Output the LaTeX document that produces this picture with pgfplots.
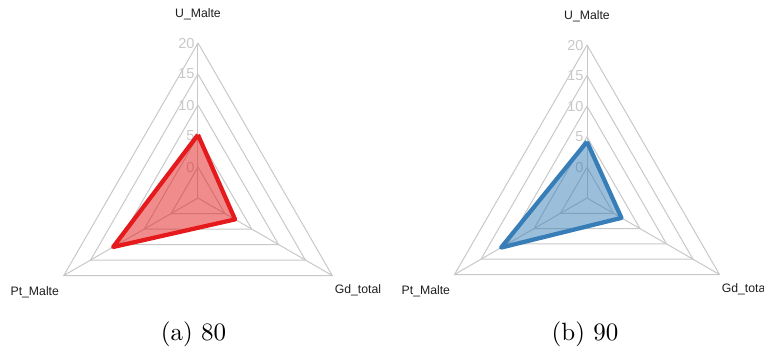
\documentclass[border=0pt]{standalone}
\usepackage{pgfplots}
\pgfplotsset{compat=1.18}
\usepgfplotslibrary{polar}
\usepackage{fontspec}
\newfontfamily\arial{Liberation Sans}
\definecolor{gridc}{RGB}{200,200,200}
\definecolor{tickc}{RGB}{200,200,200}
\definecolor{labc}{RGB}{30,30,30}
\definecolor{redl}{RGB}{228,26,28}
\definecolor{bluel}{RGB}{55,126,184}
\pgfplotsset{
  radar/.style={
    hide axis, scale only axis, clip=false,
    xmin=0, xmax=360, ymin=0, ymax=25,
    y filter/.expression={y+5},
  },
  ring/.style={gridc, line width=0.4pt, no marks},
}
\newcommand{\radargrid}{%
  \addplot[ring] coordinates {(90,0) (210,0) (330,0) (90,0)};
  \addplot[ring] coordinates {(90,5) (210,5) (330,5) (90,5)};
  \addplot[ring] coordinates {(90,10) (210,10) (330,10) (90,10)};
  \addplot[ring] coordinates {(90,15) (210,15) (330,15) (90,15)};
  \addplot[ring] coordinates {(90,20) (210,20) (330,20) (90,20)};
  \addplot[ring] coordinates {(90,-5) (90,20)};
  \addplot[ring] coordinates {(210,-5) (210,20)};
  \addplot[ring] coordinates {(330,-5) (330,20)};
  \foreach \v in {0,5,10,15,20} {
    \edef\tmp{\noexpand\node[anchor=east, inner sep=0pt, xshift=-1.2pt, font=\noexpand\arial\noexpand\fontsize{5.8}{7}\noexpand\selectfont, text=tickc] at (axis cs:90,\v+5) {\v};}\tmp
  }
  \node[font=\arial\fontsize{4.9}{6}\selectfont, text=labc] at (axis cs:90,29.7) {U\_Malte};
  \node[font=\arial\fontsize{4.9}{6}\selectfont, text=labc] at (axis cs:210,30.4) {Pt\_Malte};
  \node[font=\arial\fontsize{4.9}{6}\selectfont, text=labc] at (axis cs:330,29.8) {Gd\_total};
}
\begin{document}
\begin{tikzpicture}
\useasboundingbox (0,0) rectangle (305.6pt,140.4pt);
\begin{polaraxis}[radar, width=124pt, at={(79.2pt,61.2pt)}, anchor=origin]
\radargrid
\addplot[draw=redl, fill=redl, fill opacity=0.5, line width=1.7pt, line join=round, no marks]
  coordinates {(90,5.2) (210,10.8) (330,1.9) (90,5.2)};
\end{polaraxis}
\begin{polaraxis}[radar, width=122.4pt, at={(234.8pt,61.2pt)}, anchor=origin]
\radargrid
\addplot[draw=bluel, fill=bluel, fill opacity=0.5, line width=1.7pt, line join=round, no marks]
  coordinates {(90,4.2) (210,11.2) (330,1.5) (90,4.2)};
\end{polaraxis}
\node[anchor=base] at (77.4pt,4.4pt) {(a) 80};
\node[anchor=base] at (234pt,4.4pt) {(b) 90};
\end{tikzpicture}
\end{document}
